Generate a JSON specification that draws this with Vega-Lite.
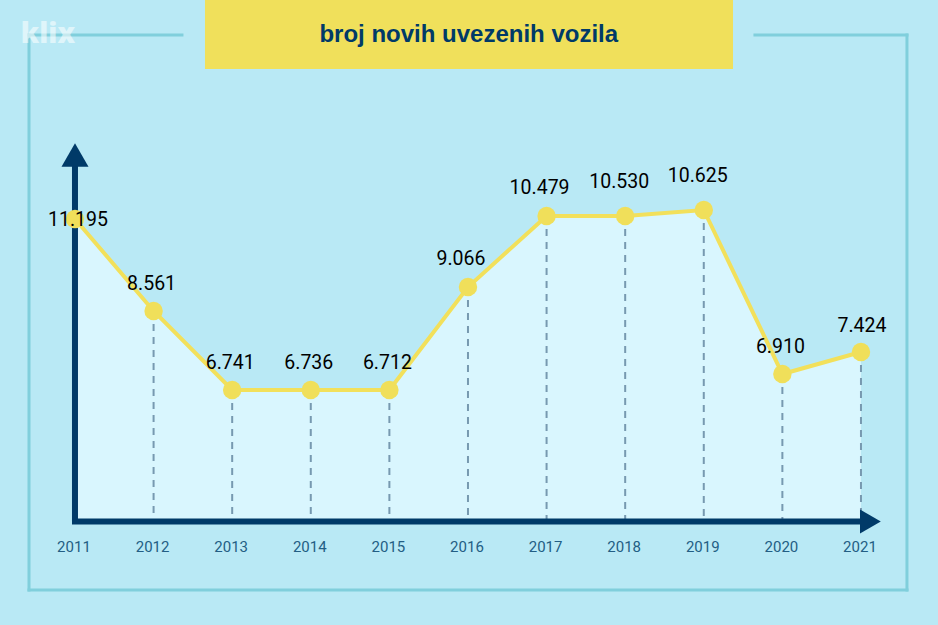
{"$schema":"https://vega.github.io/schema/vega-lite/v6.json","width":938,"height":625,"autosize":{"type":"fit","contains":"padding"},"padding":0,"background":"#b9e9f5","config":{"view":{"stroke":null},"locale":{"number":{"decimal":",","thousands":".","grouping":[3],"currency":["","KM"]}}},"datasets":{"vozila":[{"godina":2011,"broj":11195},{"godina":2012,"broj":8561},{"godina":2013,"broj":6741},{"godina":2014,"broj":6736},{"godina":2015,"broj":6712},{"godina":2016,"broj":9066},{"godina":2017,"broj":10479},{"godina":2018,"broj":10530},{"godina":2019,"broj":10625},{"godina":2020,"broj":6910},{"godina":2021,"broj":7424}],"okvir":[{"godina":2010.415,"do_godine":2010.415,"broj":15000,"do_broja":-1400},{"godina":2021.585,"do_godine":2021.585,"broj":15000,"do_broja":-1400},{"godina":2010.415,"do_godine":2021.585,"broj":-1400,"do_broja":-1400},{"godina":2010.415,"do_godine":2012.361,"broj":15000,"do_broja":15000},{"godina":2019.651,"do_godine":2021.585,"broj":15000,"do_broja":15000}],"ose":[{"godina":2011,"do_godine":2011,"broj":0,"do_broja":12000},{"godina":2010.962,"do_godine":2021,"broj":0,"do_broja":0}],"naslov":[{"godina":2012.654,"do_godine":2019.372,"broj":14000,"do_broja":16000}]},"data":{"name":"vozila"},"encoding":{"x":{"field":"godina","type":"quantitative","scale":{"domain":[2010.046,2021.98],"range":[0,938],"nice":false,"zero":false},"axis":{"values":[2011,2012,2013,2014,2015,2016,2017,2018,2019,2020,2021],"format":"d","title":null,"domain":false,"ticks":false,"grid":false,"labelFont":"Roboto","labelFontSize":15,"labelColor":"#235e84","labelPadding":0,"labelOffset":-1.5,"offset":-86,"labelFlush":false,"labelOverlap":false}},"y":{"field":"broj","type":"quantitative","scale":{"domain":[-1400,0,6712,6741,6910,7424,8561,9066,10479,10530,10625,11195,12000,14000,15000,16000],"range":[590,521.5,390,390,374,352,311,287,216,216,210,219,155,69,35,0],"nice":false,"zero":false},"axis":null}},"layer":[{"data":{"name":"okvir"},"mark":{"type":"rule","stroke":"#80cfdc","strokeWidth":3,"strokeCap":"square"},"encoding":{"x2":{"field":"do_godine"},"y2":{"field":"do_broja"}}},{"data":{"name":"naslov"},"mark":{"type":"rect","fill":"#f0e05b"},"encoding":{"x2":{"field":"do_godine"},"y2":{"field":"do_broja"}}},{"mark":{"type":"area","fill":"#d9f6fe","interpolate":"linear"},"encoding":{"y2":{"datum":0}}},{"transform":[{"filter":"datum.godina > 2011"}],"mark":{"type":"rule","stroke":"#7799b0","strokeWidth":2,"strokeDash":[7,6]},"encoding":{"y2":{"datum":0}}},{"data":{"name":"ose"},"mark":{"type":"rule","stroke":"#003a68","strokeWidth":6},"encoding":{"x2":{"field":"do_godine"},"y2":{"field":"do_broja"}}},{"data":{"values":[{"godina":2011,"broj":12000}]},"mark":{"type":"point","shape":"triangle-up","filled":true,"opacity":1,"fill":"#003a68","size":729}},{"data":{"values":[{"godina":2021.12,"broj":0}]},"mark":{"type":"point","shape":"triangle-right","filled":true,"opacity":1,"fill":"#003a68","size":576}},{"mark":{"type":"line","stroke":"#f2e05b","strokeWidth":4}},{"mark":{"type":"point","filled":true,"opacity":1,"fill":"#f0df5a","size":340}},{"transform":[{"filter":"datum.godina == 2011"}],"mark":{"type":"text","font":"Roboto","fontSize":19.5,"fill":"#000000","dx":3,"dy":1},"encoding":{"text":{"field":"broj","type":"quantitative","format":",d"}}},{"transform":[{"filter":"indexof([2012,2013,2014,2015,2020], datum.godina) >= 0"}],"mark":{"type":"text","font":"Roboto","fontSize":19.5,"fill":"#000000","dx":-2,"dy":-27.5},"encoding":{"text":{"field":"broj","type":"quantitative","format":",d"}}},{"transform":[{"filter":"datum.godina == 2021"}],"mark":{"type":"text","font":"Roboto","fontSize":19.5,"fill":"#000000","dx":1,"dy":-26},"encoding":{"text":{"field":"broj","type":"quantitative","format":",d"}}},{"transform":[{"filter":"datum.godina == 2016 || datum.godina == 2017"}],"mark":{"type":"text","font":"Roboto","fontSize":19.5,"fill":"#000000","dx":-7,"dy":-28.5},"encoding":{"text":{"field":"broj","type":"quantitative","format":",d"}}},{"transform":[{"filter":"datum.godina == 2018 || datum.godina == 2019"}],"mark":{"type":"text","font":"Roboto","fontSize":19.5,"fill":"#000000","dx":-6,"dy":-34},"encoding":{"text":{"field":"broj","type":"quantitative","format":",d"}}},{"data":{"values":[{"godina":2016.01,"broj":15000,"tekst":"broj novih uvezenih vozila"}]},"mark":{"type":"text","font":"Liberation Sans","fontWeight":"bold","fontSize":24,"fill":"#003a68"},"encoding":{"text":{"field":"tekst"}}},{"data":{"values":[{"godina":2010.656,"broj":15000,"tekst":"klix"}]},"mark":{"type":"text","font":"Open Sans","fontWeight":800,"fontSize":28,"fill":"#ffffff","opacity":0.55},"encoding":{"text":{"field":"tekst"}}}]}
